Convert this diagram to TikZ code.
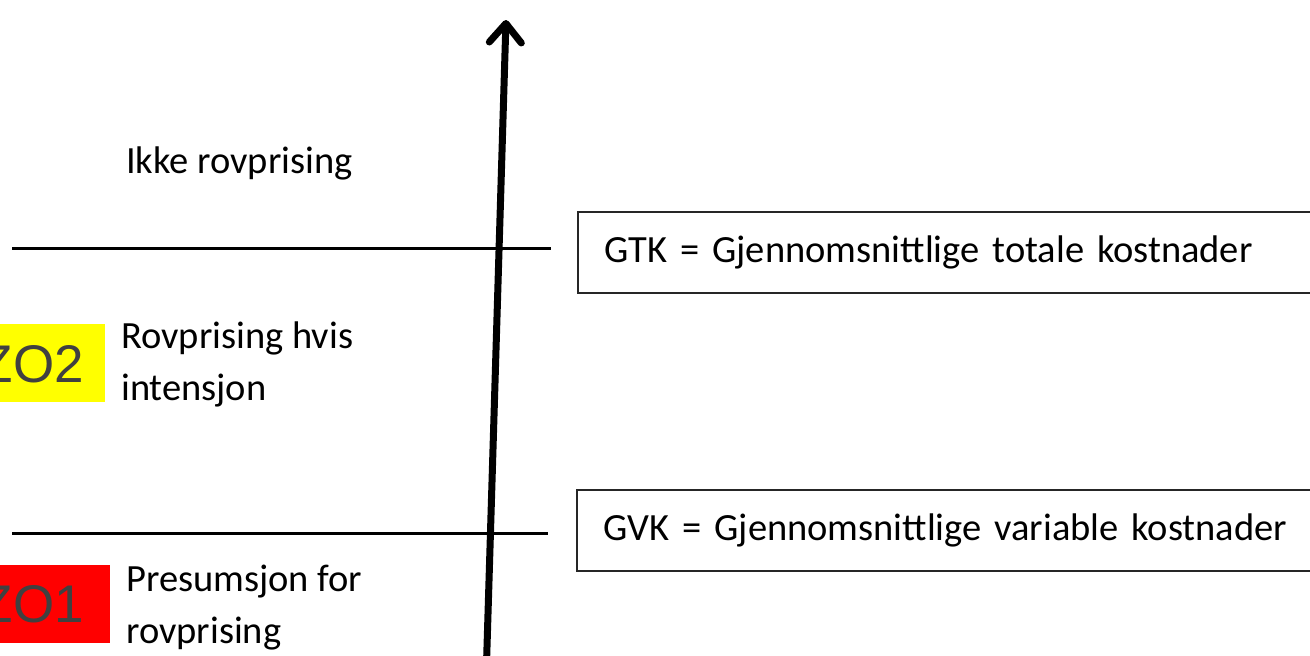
\documentclass[tikz,border=0pt]{standalone}
\usepackage{fontspec}
\setmainfont{Carlito}
\newfontfamily\zofont{Liberation Sans}
\usetikzlibrary{arrows.meta}
\definecolor{zogray}{HTML}{404040}
\definecolor{zoyellow}{HTML}{FFFF00}
\definecolor{zored}{HTML}{FF0000}
\tikzset{
  label text/.style={inner sep=0pt, align=left, font=\fontsize{38.5}{52}\selectfont},
  level line/.style={line width=3pt, black},
  cost box/.style={draw=black!85, line width=1.5pt, anchor=north west,
    minimum width=780pt, minimum height=81pt, inner xsep=27pt,
    text width=726pt, align=left, font=\fontsize{38.5}{46}\selectfont},
  zo box/.style={inner sep=0pt, anchor=north east, minimum height=78pt},
  zo text/.style={inner sep=0pt, anchor=base east, text=zogray,
    font=\zofont\fontsize{53}{60}\selectfont},
  axis/.style={line width=7pt, -{Straight Barb[length=19pt,width=32pt,round]}}
}
\begin{document}
\begin{tikzpicture}[x=1pt,y=-1pt]
  \useasboundingbox (0,0) rectangle (1310,656);
  \clip (0,0) rectangle (1310,656);

  % price levels
  \coordinate (gtkleft) at (12,248);
  \coordinate (gtkright) at (551,248);
  \coordinate (gvkleft) at (12,533);
  \coordinate (gvkright) at (548,533);
  \draw[level line] (gtkleft) -- (gtkright);
  \draw[level line] (gvkleft) -- (gvkright);

  % vertical price axis
  \coordinate (axisfoot) at (486,680);
  \coordinate (axistop) at (506,20);
  \draw[axis] (axisfoot) -- (axistop);

  % zone labels (base anchor sits on the last line)
  \node[label text, anchor=base west] (ikke) at (126,173) {Ikke rovprising};
  \node[label text, anchor=base west] (hvis) at (121,400) {Rovprising hvis\\intensjon};
  \node[label text, anchor=base west] (presumsjon) at (126,643) {Presumsjon for\\rovprising};

  % zone markers
  \node[zo box, fill=zoyellow, minimum width=130pt] (zo2box) at (105,324) {};
  \node[zo text] (zo2) at (84,382) {ZO2};
  \node[zo box, fill=zored, minimum width=130pt] (zo1box) at (110,565) {};
  \node[zo text] (zo1) at (84,622) {ZO1};

  % cost definitions
  \node[cost box] (gtk) at (577,211) {GTK = Gjennomsnittlige totale kostnader};
  \node[cost box] (gvk) at (576,489) {GVK = Gjennomsnittlige variable kostnader};
\end{tikzpicture}
\end{document}
